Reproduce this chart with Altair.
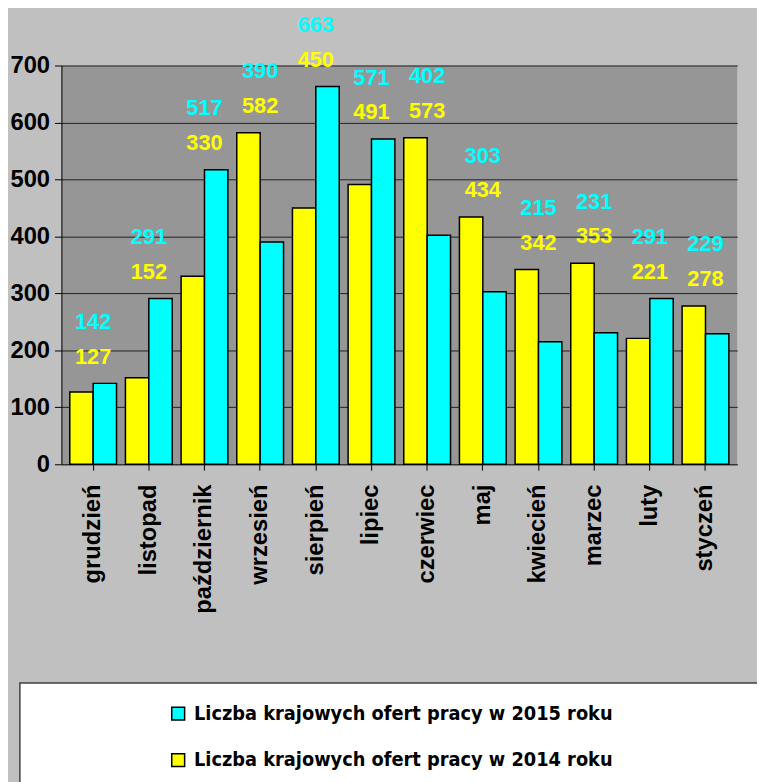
import altair as alt
import pandas as pd

months = ["grudzień", "listopad", "październik", "wrzesień", "sierpień", "lipiec",
          "czerwiec", "maj", "kwiecień", "marzec", "luty", "styczeń"]
v2015 = [142, 291, 517, 390, 663, 571, 402, 303, 215, 231, 291, 229]
v2014 = [127, 152, 330, 582, 450, 491, 573, 434, 342, 353, 221, 278]
s2015 = "Liczba krajowych ofert pracy w 2015 roku"
s2014 = "Liczba krajowych ofert pracy w 2014 roku"
y_ticks = [0, 100, 200, 300, 400, 500, 600, 700]

rows = []
for m, a, b in zip(months, v2015, v2014):
    rows.append({"miesiac": m, "seria": s2014, "wartosc": b})
    rows.append({"miesiac": m, "seria": s2015, "wartosc": a})
df = pd.DataFrame(rows)

FONT = "Liberation Sans"
NARROW = "DejaVu Sans Condensed, Liberation Sans"

x_enc = alt.X("miesiac:N", sort=months,
              scale=alt.Scale(paddingInner=0.16, paddingOuter=0.15),
              axis=alt.Axis(title=None, labelAngle=-90, labelFont=FONT, labelFontSize=24,
                            labelFontWeight="bold", labelColor="black", labelPadding=14,
                            tickColor="black", tickSize=6, domainColor="#303030",
                            labelLimit=300))
y_scale = alt.Scale(domain=[0, 700], nice=False)
y_enc = alt.Y("wartosc:Q", scale=y_scale,
              axis=alt.Axis(title=None, values=y_ticks, labelFont=FONT, labelFontSize=24,
                            labelFontWeight="bold", labelColor="black", labelPadding=5,
                            tickColor="black", tickSize=7, domainColor="black",
                            gridColor="#202020", gridWidth=1))

color = alt.Color("seria:N",
                  scale=alt.Scale(domain=[s2015, s2014], range=["#00ffff", "#ffff00"]),
                  legend=alt.Legend(title=None, orient="none", legendX=108, legendY=645,
                                    symbolType="square", symbolSize=170,
                                    symbolStrokeColor="black", symbolStrokeWidth=1.5,
                                    labelFont=NARROW, labelFontSize=20,
                                    labelFontWeight="bold", labelColor="black",
                                    rowPadding=27, labelLimit=600, labelOffset=6))

box = alt.Chart(pd.DataFrame({"k": [0]})).mark_rect(
    fill="white", stroke="#404040", strokeWidth=1.5
).encode(x=alt.value(-42), x2=alt.value(730), y=alt.value(624), y2=alt.value(760))

bars = alt.Chart(df).mark_bar(stroke="black", strokeWidth=1.5).encode(
    x=x_enc,
    xOffset=alt.XOffset("seria:N", sort=[s2014, s2015]),
    y=y_enc,
    color=color,
)

lab_base = alt.Chart(df).transform_joinaggregate(
    top="max(wartosc)", groupby=["miesiac"]
)
lab15 = lab_base.transform_filter(alt.datum.seria == s2015).mark_text(
    font=FONT, fontSize=22, fontWeight="bold", color="#00ffff", dy=-62, baseline="middle"
).encode(x=alt.X("miesiac:N", sort=months), y=alt.Y("top:Q", scale=y_scale),
         text="wartosc:Q")
lab14 = lab_base.transform_filter(alt.datum.seria == s2014).mark_text(
    font=FONT, fontSize=22, fontWeight="bold", color="#ffff00", dy=-27, baseline="middle"
).encode(x=alt.X("miesiac:N", sort=months), y=alt.Y("top:Q", scale=y_scale),
         text="wartosc:Q")

chart = alt.layer(box, bars, lab15, lab14).properties(
    width=683, height=403,
    autosize=alt.AutoSizeParams(type="none"),
    padding={"left": 54, "top": 54, "right": 20, "bottom": 317},
    background="#c0c0c0",
).configure_view(fill="#969696", stroke=None)

chart.save("out.html", embed_options={"renderer": "svg", "actions": False})
